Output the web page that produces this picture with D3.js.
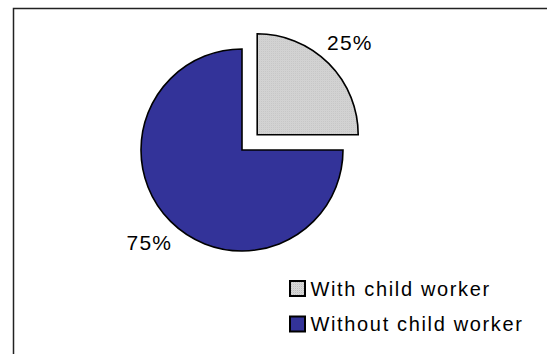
<!DOCTYPE html>
<html>
<head>
<meta charset="utf-8">
<script src="https://cdn.jsdelivr.net/npm/d3@7"></script>
<style>
  html, body { margin: 0; padding: 0; background: #fff; }
  svg { display: block; }
  text { font-family: "Liberation Sans", Arial, Helvetica, sans-serif; fill: #000; }
</style>
</head>
<body>
<svg id="chart" width="547" height="354"></svg>
<script>
// ---- data ----
const categories = ["With child worker", "Without child worker"];
const values = [25, 75];
const labels = ["25%", "75%"];
const colors = ["#d0d0d0", "#333399"];
const explode = [true, false];

// ---- layout ----
const W = 547, H = 354;
const svg = d3.select("#chart");

// frame (top and left border)
svg.append("path")
  .attr("d", `M13.5,${H} L13.5,8.5 L${W},8.5`)
  .attr("fill", "none")
  .attr("stroke", "#222")
  .attr("stroke-width", 1.5);

// stipple pattern for grey slice
const defs = svg.append("defs");
const pat = defs.append("pattern")
  .attr("id", "stip").attr("width", 2).attr("height", 2)
  .attr("patternUnits", "userSpaceOnUse");
pat.append("rect").attr("width", 2).attr("height", 2).attr("fill", "#d9d9d9");
pat.append("rect").attr("width", 1).attr("height", 1).attr("fill", "#bdbdbd");
pat.append("rect").attr("x", 1).attr("y", 1).attr("width", 1).attr("height", 1).attr("fill", "#cfcfcf");

const fills = ["url(#stip)", colors[1]];

const cx = 242, cy = 150, r = 101, explodeDist = 21.5, labelR = r + 30;

const pie = d3.pie().sort(null).value(d => d).startAngle(0).endAngle(2 * Math.PI);
const arcs = pie(values);
const arc = d3.arc().innerRadius(0).outerRadius(r);

const g = svg.append("g").attr("transform", `translate(${cx},${cy})`);

arcs.forEach((a, i) => {
  const mid = (a.startAngle + a.endAngle) / 2;
  const off = explode[i] ? explodeDist : 0;
  const ox = Math.sin(mid) * off, oy = -Math.cos(mid) * off;
  const sg = g.append("g").attr("transform", `translate(${ox},${oy})`);
  sg.append("path")
    .attr("d", arc(a))
    .attr("fill", fills[i])
    .attr("stroke", "#000")
    .attr("stroke-width", 1.6)
    .attr("stroke-linejoin", "miter");
  const lx = Math.sin(mid) * labelR, ly = -Math.cos(mid) * labelR;
  sg.append("text")
    .attr("x", lx).attr("y", ly)
    .attr("text-anchor", "middle")
    .attr("dominant-baseline", "central")
    .attr("font-size", 21)
    .attr("letter-spacing", 1.2)
    .text(labels[i]);
});

// legend
const legend = svg.append("g").attr("transform", "translate(289,280)");
categories.forEach((c, i) => {
  const row = legend.append("g").attr("transform", `translate(0,${i * 35.5})`);
  row.append("rect")
    .attr("x", 1).attr("y", 1).attr("width", 15).attr("height", 15)
    .attr("fill", fills[i])
    .attr("stroke", "#000").attr("stroke-width", 2);
  row.append("text")
    .attr("x", 21.5).attr("y", 15.5)
    .attr("font-size", 20)
    .attr("letter-spacing", 1.65)
    .text(c);
});
</script>
</body>
</html>
